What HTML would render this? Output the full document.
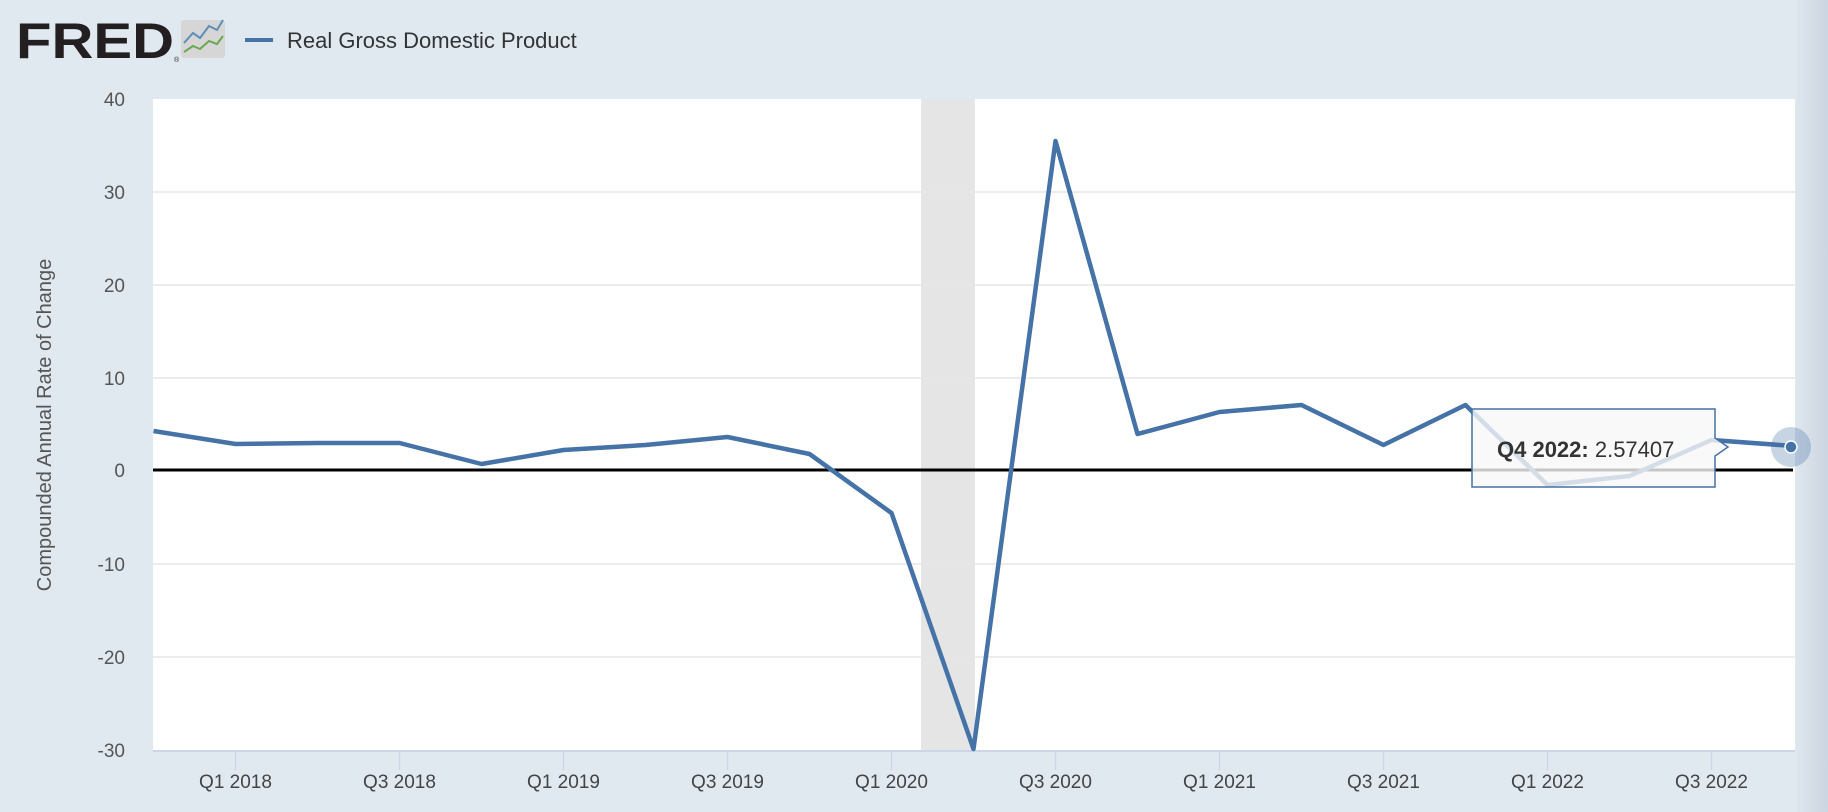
<!DOCTYPE html>
<html><head><meta charset="utf-8"><style>
body{margin:0;width:1828px;height:812px;background:#e1e9f0;font-family:"Liberation Sans",sans-serif;overflow:hidden}
</style></head><body>
<svg width="1828" height="812" xmlns="http://www.w3.org/2000/svg" style="position:absolute;left:0;top:0">
<defs><linearGradient id="rg" x1="0" x2="1"><stop offset="0" stop-color="#dfe6ee"/><stop offset="1" stop-color="#cbd5e1"/></linearGradient></defs>
<rect x="1796" y="0" width="32" height="812" fill="url(#rg)"/>
<text x="16" y="58" font-size="50" font-weight="900" fill="#231f20" textLength="158" lengthAdjust="spacingAndGlyphs">FRED</text>
<text x="174" y="62" font-size="7" fill="#231f20">®</text>
<rect x="181" y="20" width="44" height="38" rx="3" fill="#d6d6d6"/>
<polyline points="184,43 193,33 200,38 209,26 217,30 223,20" fill="none" stroke="#5b8fb9" stroke-width="2"/>
<polyline points="184,52 193,46 200,49 209,41 217,44 223,36" fill="none" stroke="#6aa84f" stroke-width="2"/>
<line x1="245" y1="40" x2="273" y2="40" stroke="#4572a7" stroke-width="4"/>
<text x="287" y="48" font-size="22" fill="#333">Real Gross Domestic Product</text>
<rect x="153" y="99" width="1642" height="652" fill="#fff"/>
<rect x="921" y="99" width="54" height="652" fill="#e5e5e5"/>
<g stroke="#e6e6e6" stroke-width="1.5">
<line x1="153" y1="192" x2="1795" y2="192"/><line x1="153" y1="285" x2="1795" y2="285"/><line x1="153" y1="378" x2="1795" y2="378"/><line x1="153" y1="564" x2="1795" y2="564"/><line x1="153" y1="657" x2="1795" y2="657"/></g>
<line x1="153" y1="751" x2="1795" y2="751" stroke="#ccd6eb" stroke-width="2"/>
<line x1="153" y1="470" x2="1793" y2="470" stroke="#000" stroke-width="3"/>
<g font-size="19" fill="#555" text-anchor="end">
<text x="125" y="106">40</text><text x="125" y="199">30</text><text x="125" y="292">20</text><text x="125" y="385">10</text><text x="125" y="477">0</text><text x="125" y="571">-10</text><text x="125" y="664">-20</text><text x="125" y="757">-30</text></g>
<text transform="translate(51,425) rotate(-90)" font-size="20" fill="#555" text-anchor="middle">Compounded Annual Rate of Change</text>
<g stroke="#ccd6eb" stroke-width="1.5">
<line x1="235.5" y1="751" x2="235.5" y2="770"/><line x1="399.5" y1="751" x2="399.5" y2="770"/><line x1="563.5" y1="751" x2="563.5" y2="770"/><line x1="727.5" y1="751" x2="727.5" y2="770"/><line x1="891.5" y1="751" x2="891.5" y2="770"/><line x1="1055.5" y1="751" x2="1055.5" y2="770"/><line x1="1219.5" y1="751" x2="1219.5" y2="770"/><line x1="1383.5" y1="751" x2="1383.5" y2="770"/><line x1="1547.5" y1="751" x2="1547.5" y2="770"/><line x1="1711.5" y1="751" x2="1711.5" y2="770"/></g>
<g font-size="19" fill="#444" text-anchor="middle">
<text x="235.5" y="788">Q1 2018</text><text x="399.5" y="788">Q3 2018</text><text x="563.5" y="788">Q1 2019</text><text x="727.5" y="788">Q3 2019</text><text x="891.5" y="788">Q1 2020</text><text x="1055.5" y="788">Q3 2020</text><text x="1219.5" y="788">Q1 2021</text><text x="1383.5" y="788">Q3 2021</text><text x="1547.5" y="788">Q1 2022</text><text x="1711.5" y="788">Q3 2022</text></g>
<polyline fill="none" stroke="#4572a7" stroke-width="4.5" stroke-linejoin="round" points="153.5,431 235.5,444 317.5,443 399.5,443 481.5,464 563.5,450 645.5,445 727.5,437 809.5,454 891.5,513 973.5,749 1055.5,141 1137.5,434 1219.5,412 1301.5,405 1383.5,445 1465.5,405 1547.5,485 1629.5,476 1711.5,440 1793.5,446"/>
<g>
<path d="M1472,409 H1715 V438 L1728,447 L1715,456 V487 H1472 Z" fill="#f7f7f7" fill-opacity="0.8" stroke="#4572a7" stroke-width="1.5"/>
<text x="1497" y="457" font-size="22" fill="#333"><tspan font-weight="bold">Q4 2022:</tspan> 2.57407</text>
</g>
<circle cx="1791" cy="447" r="20" fill="#4572a7" fill-opacity="0.3"/>
<circle cx="1791" cy="447" r="6" fill="#4572a7" stroke="#fff" stroke-width="1.5"/>
</svg>
</body></html>
